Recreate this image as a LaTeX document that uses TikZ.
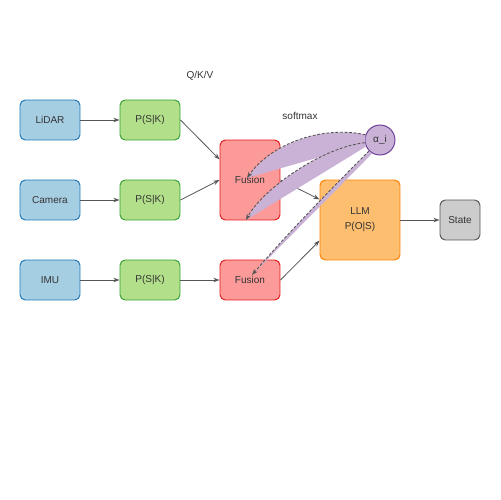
\documentclass[tikz,border=0pt]{standalone}
\usepackage{fontspec}
\setmainfont{Liberation Sans}
\usetikzlibrary{arrows.meta}

\definecolor{txtgray}{HTML}{333333}
\definecolor{linkgray}{HTML}{555555}
\definecolor{sensorfill}{HTML}{A6CEE3}
\definecolor{sensordraw}{HTML}{1F78B4}
\definecolor{probfill}{HTML}{B2DF8A}
\definecolor{probdraw}{HTML}{33A02C}
\definecolor{fusefill}{HTML}{FB9A99}
\definecolor{fusedraw}{HTML}{E31A1C}
\definecolor{llmfill}{HTML}{FDBF6F}
\definecolor{llmdraw}{HTML}{FF7F00}
\definecolor{statefill}{HTML}{CCCCCC}
\definecolor{attnfill}{HTML}{CAB2D6}
\definecolor{attndraw}{HTML}{6A3D9A}

\begin{document}
\begin{tikzpicture}[x=0.02cm,y=-0.02cm,>=Stealth,
    font=\fontsize{5.7}{6.8}\selectfont,
    box/.style={draw, rounded corners=3pt, line width=0.55pt, text=txtgray,
      minimum width=1.2cm, minimum height=0.8cm, inner sep=0pt},
    sensor/.style={box, fill=sensorfill, draw=sensordraw},
    prob/.style={box, fill=probfill, draw=probdraw},
    fuse/.style={box, fill=fusefill, draw=fusedraw},
    link/.style={->, draw=linkgray, line width=0.45pt, >={Stealth[length=3.5pt,width=2.5pt]}},
    attn/.style={draw=linkgray, line width=0.5pt, dash pattern=on 1.6pt off 1pt,
      ->, >={Stealth[length=3.5pt,width=2.5pt]}}]

\useasboundingbox (0,0) rectangle (500,500);

% sensor rows
\foreach \name/\txt/\y in {lidar/LiDAR/120, camera/Camera/200, imu/IMU/280} {
        \node[sensor] (\name) at (50,\y) {\txt};
        \node[prob] (p\name) at (150,\y) {P(S|K)};
        \draw[link] (\name) -- (p\name);
    }

\node[fuse, minimum height=1.6cm] (fuseA) at (250,180) {Fusion};
\node[fuse] (fuseB) at (250,280) {Fusion};
\node[box, fill=llmfill, draw=llmdraw, minimum width=1.6cm, minimum height=1.6cm,
  align=center, font=\fontsize{5.7}{8.5}\selectfont] (llm) at (360,220) {LLM\\P(O|S)};
\node[box, fill=statefill, draw=linkgray, minimum width=0.8cm] (state) at (460,220) {State};
\node[circle, draw=attndraw, fill=attnfill, line width=0.55pt, text=txtgray,
  minimum size=0.6cm, inner sep=0pt] (alpha) at (380,140) {α\_i};

\node[text=txtgray] (qkv) at (200,76) {Q/K/V};
\node[text=txtgray] (soft) at (300,116) {softmax};

\draw[link] (plidar.east) -- (fuseA.146);
\draw[link] (pcamera.east) -- (fuseA.west);
\draw[link] (pimu.east) -- (fuseB.west);
\draw[link] (fuseA.east) -- (llm.153);
\draw[link] (fuseB.east) -- (llm.207);
\draw[link] (llm.east) -- (state.west);

%Attention
\coordinate (t1) at (247,178);
\coordinate (t2) at (246,220);
\coordinate (t3) at (252,275);

\fill[attnfill] (alpha.160) .. controls (320,125) and (270,145) .. (t1) -- (alpha.195) -- cycle;
\draw[attn] (alpha.160) .. controls (320,125) and (270,145) .. (t1);

\fill[attnfill] (alpha.190) .. controls (320,148) and (262,190) .. (t2) -- (alpha.205) -- cycle;
\draw[attn] (alpha.190) .. controls (320,148) and (262,190) .. (t2);

\fill[attnfill] (alpha.225) .. controls (328,192) and (288,233) .. (t3) -- (alpha.240) -- cycle;
\draw[attn] (alpha.225) .. controls (328,192) and (288,233) .. (t3);

\end{tikzpicture}
\end{document}
